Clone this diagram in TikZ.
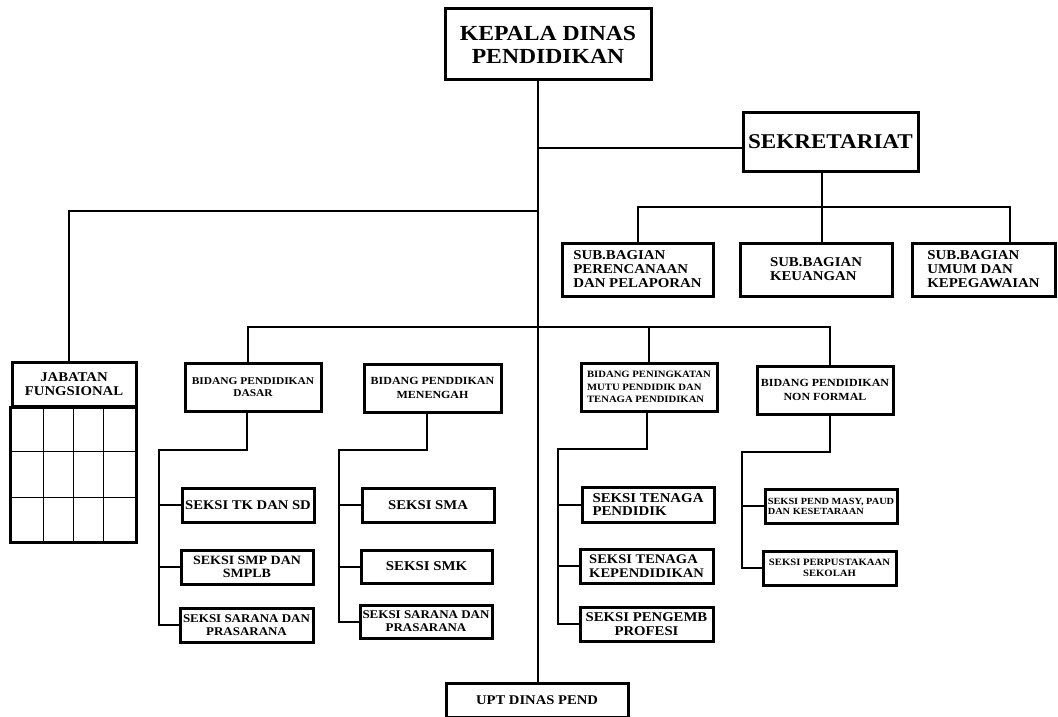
\documentclass[tikz,border=0pt]{standalone}
\usepackage{fontspec}
\newfontfamily\orgfont[FakeStretch=1.1]{Liberation Serif}
\newcommand{\orgsize}[2]{\orgfont\bfseries\fontsize{#1}{#2}\selectfont}

\begin{document}
\begin{tikzpicture}[x=1pt,y=-1pt,
  box/.style={draw,line width=3pt,inner sep=0pt,fill=white},
  conn/.style={line width=2pt},
  grid/.style={line width=0.9pt}]
\useasboundingbox (0,0) rectangle (1058,717);

\node[box,minimum width=206,minimum height=71,align=center,font=\orgsize{21.5}{23}] (kepala) at (548,44.5) {KEPALA DINAS\\PENDIDIKAN};
\node[box,minimum width=175,minimum height=59,font=\orgsize{21}{23}] (sekretariat) at (830.5,141.5) {SEKRETARIAT};
\node[box,minimum width=151,minimum height=53,align=left,font=\orgsize{13.5}{14}] (subperencanaan) at (637.5,269.5) {SUB.BAGIAN\\PERENCANAAN\\DAN PELAPORAN};
\node[box,minimum width=152,minimum height=53,align=left,font=\orgsize{13.5}{14}] (subkeuangan) at (816,269.5) {SUB.BAGIAN\\KEUANGAN};
\node[box,minimum width=143,minimum height=53,align=left,font=\orgsize{13.5}{14}] (subumum) at (983.5,269.5) {SUB.BAGIAN\\UMUM DAN\\KEPEGAWAIAN};

\node[box,minimum width=124,minimum height=44,align=center,font=\orgsize{13.4}{14}] (jabatan) at (74,384) {JABATAN\\FUNGSIONAL};
\foreach \gx in {43,73,103} \draw[grid] (\gx,406) -- (\gx,542);
\foreach \gy in {451,497} \draw[grid] (12,\gy) -- (136,\gy);
\draw[line width=3pt] (jabatan.south west) rectangle (136,542);

\node[box,minimum width=136,minimum height=48,align=center,font=\orgsize{10.4}{12.7}] (bidangdasar) at (253,387) {BIDANG PENDIDIKAN\\DASAR};
\node[box,minimum width=137,minimum height=48,align=center,font=\orgsize{10.9}{13.3}] (bidangmenengah) at (432.5,388) {BIDANG PENDDIKAN\\MENENGAH};
\node[box,minimum width=136,minimum height=48,align=left,font=\orgsize{9.7}{12.5}] (bidangmutu) at (649,387) {BIDANG PENINGKATAN\\MUTU PENDIDIK DAN\\TENAGA PENDIDIKAN};
\node[box,minimum width=136,minimum height=48,align=center,font=\orgsize{10.9}{13.3}] (bidangnonformal) at (825,390) {BIDANG PENDIDIKAN\\NON FORMAL};

\node[box,minimum width=132,minimum height=34,font=\orgsize{13.3}{14}] (seksitksd) at (248,505) {SEKSI TK DAN SD};
\node[box,minimum width=132,minimum height=34,align=center,font=\orgsize{12.7}{13.5}] (seksismp) at (247,567) {SEKSI SMP DAN\\SMPLB};
\node[box,minimum width=133,minimum height=34,align=center,font=\orgsize{11.8}{13}] (seksisarana) at (246.5,625) {SEKSI SARANA DAN\\PRASARANA};

\node[box,minimum width=132,minimum height=34,font=\orgsize{13.4}{14}] (seksisma) at (428,505) {SEKSI SMA};
\node[box,minimum width=131,minimum height=33,font=\orgsize{13.5}{14}] (seksismk) at (426.5,566.5) {SEKSI SMK};
\node[box,minimum width=132,minimum height=33,align=center,font=\orgsize{11.8}{13}] (seksisaranab) at (426,621.5) {SEKSI SARANA DAN\\PRASARANA};

\node[box,minimum width=132,minimum height=35,align=left,font=\orgsize{13.5}{13.7}] (seksitenaga) at (648,504.5) {SEKSI TENAGA\\PENDIDIK};
\node[box,minimum width=133,minimum height=34,align=left,font=\orgsize{13.2}{13.5}] (seksikependidikan) at (646.5,566) {SEKSI TENAGA\\KEPENDIDIKAN};
\node[box,minimum width=133,minimum height=34,align=center,font=\orgsize{13.4}{13.5}] (seksiprofesi) at (646.5,624) {SEKSI PENGEMB\\PROFESI};

\node[box,minimum width=132,minimum height=34,align=left,font=\orgsize{9.4}{10}] (seksimasy) at (831,506) {SEKSI PEND MASY, PAUD\\DAN KESETARAAN};
\node[box,minimum width=133,minimum height=34,align=center,font=\orgsize{9.7}{10.5}] (seksipustaka) at (829.5,568) {SEKSI PERPUSTAKAAN\\SEKOLAH};

\node[box,minimum width=182,minimum height=34,font=\orgsize{13.3}{14}] (upt) at (537,700) {UPT DINAS PEND};

\coordinate (trunk) at (538,148);
\coordinate (jabj) at (538,211);
\coordinate (bidj) at (538,327);
\coordinate (subj) at (822,207);
\coordinate (dasarj) at (159,450);
\coordinate (menengahj) at (339,450);
\coordinate (mutuj) at (558,449);
\coordinate (nonformalj) at (742,452);

\draw[conn] (kepala.south -| trunk) -- (upt.north -| trunk);
\draw[conn] (trunk) -- (trunk -| sekretariat.west);
\draw[conn] ([xshift=-8.5]sekretariat.south) -- (subj);
\draw[conn] (subperencanaan.north) |- (subj) -| ([xshift=26.5]subumum.north);
\draw[conn] (subj) -- ([xshift=6]subkeuangan.north);
\draw[conn] (jabj) -| ([xshift=-5]jabatan.north);
\draw[conn] ([xshift=-5]bidangdasar.north) |- (bidj) -| ([xshift=5]bidangnonformal.north);
\draw[conn] (bidangmutu.north) -- (bidangmutu.north |- bidj);

\draw[conn] ([xshift=-6]bidangdasar.south) |- (dasarj) |- (seksisarana.west);
\draw[conn] (dasarj |- seksitksd.west) -- (seksitksd.west);
\draw[conn] (dasarj |- seksismp.west) -- (seksismp.west);
\draw[conn] ([xshift=-5.5]bidangmenengah.south) |- (menengahj) |- (seksisaranab.west);
\draw[conn] (menengahj |- seksisma.west) -- (seksisma.west);
\draw[conn] (menengahj |- seksismk.west) -- (seksismk.west);
\draw[conn] ([xshift=-2]bidangmutu.south) |- (mutuj) |- (seksiprofesi.west);
\draw[conn] (mutuj |- seksitenaga.west) -- (seksitenaga.west);
\draw[conn] (mutuj |- seksikependidikan.west) -- (seksikependidikan.west);
\draw[conn] ([xshift=5]bidangnonformal.south) |- (nonformalj) |- (seksipustaka.west);
\draw[conn] (nonformalj |- seksimasy.west) -- (seksimasy.west);
\end{tikzpicture}
\end{document}
